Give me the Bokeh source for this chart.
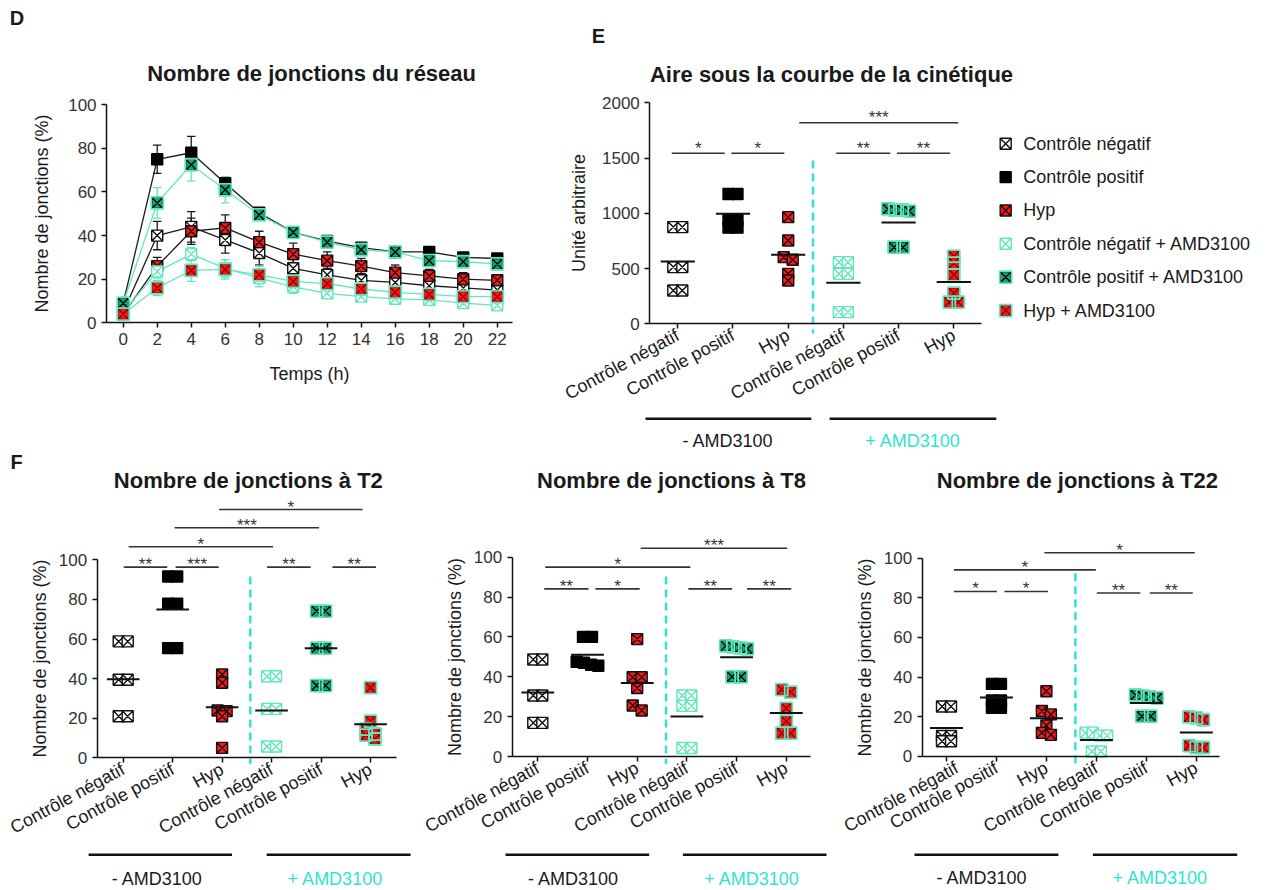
import numpy as np
from bokeh.plotting import figure
from bokeh.models import Range1d, FixedTicker
from bokeh.layouts import column, row
from bokeh.embed import file_html
from bokeh.resources import INLINE
from bokeh.core.properties import value

FONT = "Liberation Sans"
MINT = "#62e6bc"
CYAN = "#2fe3d3"
RED = "#ff1717"
GREEN = "#17a673"
INK = "#1a1a1a"
GREY = "#333333"

# ---------------- data ----------------
categories = ["Contrôle négatif", "Contrôle positif", "Hyp",
              "Contrôle négatif", "Contrôle positif", "Hyp"]
series_names = ["Contrôle négatif", "Contrôle positif", "Hyp",
                "Contrôle négatif + AMD3100", "Contrôle positif + AMD3100", "Hyp + AMD3100"]
group_labels = ["- AMD3100", "+ AMD3100"]

time_h = [0, 2, 4, 6, 8, 10, 12, 14, 16, 18, 20, 22]
d_cn = [5, 40, 44, 38, 32, 25, 22, 19.5, 18.5, 17, 16, 15]
d_cn_err = [1, 6.5, 7, 6, 5.5, 4, 3, 3, 2.5, 2.5, 2, 2]
d_cp = [9, 75, 78, 64, 50.5, 41.5, 37.5, 34.5, 32.5, 32.5, 30, 29.5]
d_cp_err = [1, 6.5, 7.5, 3, 2, 1.5, 1.5, 1.5, 1, 1, 1, 1]
d_hyp = [4, 26, 42, 43.5, 37, 31.5, 28.5, 26, 23, 21.5, 20, 19.5]
d_hyp_err = [1, 4, 6, 6, 5, 5, 4, 3.5, 3.5, 3, 3, 2.5]
d_cn_amd = [5, 23.5, 31.5, 25, 20.5, 16.5, 13.5, 12, 11, 10.5, 9, 8]
d_cn_amd_err = [1, 3, 3, 4, 4, 3, 2, 1.5, 1.5, 1.5, 1, 1]
d_cp_amd = [9, 55, 72.5, 61, 49.5, 41.5, 37, 33.5, 32.5, 28.5, 28, 27]
d_cp_amd_err = [1, 7, 7.5, 6, 2, 1.5, 1.5, 1.5, 1, 1, 1, 1]
d_hyp_amd = [4, 16, 24, 24.5, 22, 19, 18, 15.5, 14, 13, 12, 12]
d_hyp_amd_err = [1, 3.5, 5, 4.5, 4, 3.5, 3, 2, 2, 2, 2, 2]

auc_cn = [875, 875, 513, 513, 302, 302]
auc_cp = [1175, 1175, 940, 940, 870, 870]
auc_hyp = [965, 754, 603, 579, 452, 392]
auc_cn_amd = [558, 558, 452, 452, 106, 106]
auc_cp_amd = [1040, 1030, 1030, 1020, 693, 693]
auc_hyp_amd = [612, 549, 443, 277, 196, 196]

t2_cn = [58.8, 58.8, 39.4, 39.4, 21.0, 21.0]
t2_cp = [91.6, 91.6, 77.8, 77.8, 55.4, 55.4]
t2_hyp = [42.1, 37.9, 23.9, 23.6, 21.0, 5.0]
t2_cn_amd = [41.2, 41.2, 24.7, 24.7, 5.7, 5.7]
t2_cp_amd = [74.1, 74.1, 55.4, 55.4, 36.5, 36.5]
t2_hyp_amd = [35.4, 18.5, 14.5, 12.0, 11.5, 9.5]

t8_cn = [48.7, 48.7, 30.6, 30.6, 16.9, 16.9]
t8_cp = [60.0, 60.0, 47.5, 47.0, 46.0, 45.5]
t8_hyp = [58.9, 39.8, 39.8, 34.4, 25.6, 23.1]
t8_cn_amd = [30.6, 30.6, 25.4, 25.4, 4.3, 4.3]
t8_cp_amd = [55.5, 55.0, 54.5, 54.0, 40.0, 40.0]
t8_hyp_amd = [33.6, 32.3, 24.2, 17.7, 11.7, 11.7]

t22_cn = [25.2, 25.2, 10.3, 10.3, 7.7, 7.7]
t22_cp = [36.6, 36.6, 28.2, 28.2, 24.5, 24.5]
t22_hyp = [32.9, 22.9, 21.2, 15.6, 11.9, 10.9]
t22_cn_amd = [12.0, 12.0, 10.5, 10.5, 2.5, 2.5]
t22_cp_amd = [31.0, 30.5, 30.0, 29.5, 20.3, 20.3]
t22_hyp_amd = [20.0, 19.5, 18.5, 5.5, 4.5, 4.5]

# significance annotations: (from category, to category, height, stars)
auc_sig = [(-0.11, 0.85, 1544, "*"), (0.97, 1.93, 1544, "*"), (2.2, 5.08, 1819, "***"),
           (2.87, 3.85, 1544, "**"), (3.97, 4.93, 1544, "**")]
t2_sig = [(0.01, 0.89, 96.3, "**"), (1.06, 1.93, 96.3, "***"), (0.11, 3.03, 106.6, "*"),
          (1.04, 3.96, 116.2, "***"), (1.94, 4.84, 125.4, "*"), (2.91, 3.79, 96.3, "**"),
          (4.23, 5.11, 96.3, "**")]
t8_sig = [(0.13, 1.02, 84.1, "**"), (1.16, 2.05, 84.1, "*"), (0.15, 3.07, 95.0, "*"),
          (2.07, 5.02, 104.5, "***"), (3.03, 3.91, 84.1, "**"), (4.21, 5.1, 84.1, "**")]
t22_sig = [(0.15, 1.01, 83.2, "*"), (1.16, 2.03, 83.2, "*"), (0.15, 2.99, 94.1, "*"),
           (1.96, 4.97, 102.7, "*"), (3.01, 3.88, 82.4, "**"), (4.07, 4.93, 82.4, "**")]

# marker styles: (marker, fill, line/X colour, outer border colour)
STYLES = [("square_x", "white", "#111111", None),
          ("square", "#000000", "#000000", None),
          ("square_x", RED, "#111111", None),
          ("square_x", "white", MINT, None),
          ("square_x", GREEN, "#000000", MINT),
          ("square_x", RED, "#8a0000", MINT)]


def base_fig(w, h, xr, yr):
    p = figure(width=w, height=h, x_range=Range1d(*xr), y_range=Range1d(*yr),
               output_backend="svg", toolbar_location=None,
               min_border=0, min_border_left=0, min_border_right=0,
               min_border_top=0, min_border_bottom=0)
    p.outline_line_color = None
    p.grid.visible = False
    p.background_fill_color = "white"
    p.border_fill_color = "white"
    return p


def style_axis(ax, label, standoff, size, color):
    if label:
        ax.axis_label = label
    ax.axis_label_text_font = FONT
    ax.axis_label_text_font_size = "18px"
    ax.axis_label_text_font_style = "normal"
    ax.axis_label_text_color = INK
    ax.axis_label_standoff = standoff
    ax.axis_line_color = "#111111"
    ax.axis_line_width = 1.5
    ax.major_tick_line_color = "#111111"
    ax.major_tick_line_width = 1.5
    ax.major_tick_out = 5
    ax.major_tick_in = 0
    ax.minor_tick_out = 0
    ax.minor_tick_in = 0
    ax.major_label_text_font = FONT
    ax.major_label_text_font_size = size
    ax.major_label_text_color = color


def add_text(p, xs, ys, texts, size, color=INK, bold=False, align="center", baseline="middle"):
    p.text(x=xs, y=ys, text=texts, text_font=value(FONT), text_font_size=size,
           text_font_style=value("bold" if bold else "normal"), text_color=color,
           text_align=value(align), text_baseline=value(baseline))


def draw_pts(p, xs, ys, st, size=11):
    p.scatter(x=list(xs), y=list(ys), marker=st[0], size=size, fill_color=st[1],
              line_color=st[2], line_width=1.4)
    if st[3] is not None:
        p.scatter(x=list(xs), y=list(ys), marker="square", size=size + 1, fill_color=None,
                  line_color=st[3], line_width=1.8)


def swarm_offsets(vals, pxx, pxy, thresh=5.0, step=9.0):
    vals = np.asarray(vals, float)
    order = np.argsort(-vals, kind="stable")
    offs = np.zeros(len(vals))
    clusters, cur = [], [order[0]]
    for i in order[1:]:
        if abs(vals[cur[0]] - vals[i]) * pxy < thresh:
            cur.append(i)
        else:
            clusters.append(cur)
            cur = [i]
    clusters.append(cur)
    for c in clusters:
        n = len(c)
        st = step if n <= 2 else step * 0.8
        for k, i in enumerate(c):
            offs[i] = (k - (n - 1) / 2) * st / pxx
    return offs


# ---------------- panel D ----------------
pD = base_fig(560, 450, (-7.218, 25.72), (-58.58, 147.84))
xa, ya = pD.xaxis[0], pD.yaxis[0]
style_axis(xa, "Temps (h)", 16, "17px", GREY)
style_axis(ya, "Nombre de jonctions (%)", 13, "17px", GREY)
xa.fixed_location = 0
xa.bounds = (-0.98, 22.9)
xa.ticker = FixedTicker(ticks=time_h)
ya.fixed_location = -0.98
ya.bounds = (0, 100)
ya.ticker = FixedTicker(ticks=[0, 20, 40, 60, 80, 100])

d_means = [d_cn, d_cp, d_hyp, d_cn_amd, d_cp_amd, d_hyp_amd]
d_errs = [d_cn_err, d_cp_err, d_hyp_err, d_cn_amd_err, d_cp_amd_err, d_hyp_amd_err]
t = np.array(time_h, float)
for i in range(6):
    m = np.array(d_means[i], float)
    e = np.array(d_errs[i], float)
    col = "#1a1a1a" if i < 3 else MINT
    pD.segment(x0=t, y0=m - e, x1=t, y1=m + e, line_color=col, line_width=1.3)
    pD.segment(x0=t - 0.25, y0=m + e, x1=t + 0.25, y1=m + e, line_color=col, line_width=1.3)
    pD.segment(x0=t - 0.25, y0=m - e, x1=t + 0.25, y1=m - e, line_color=col, line_width=1.3)
    pD.line(x=t, y=m, line_color=col, line_width=1.3)
for i in range(6):
    draw_pts(pD, t, d_means[i], STYLES[i], size=11)

add_text(pD, [11.08], [114.4], ["Nombre de jonctions du réseau"], "22px", bold=True)
add_text(pD, [-6.25], [139.6], ["D"], "20px", bold=True)


# ---------------- scatter panels (E, F) ----------------
def scatter_panel(cfg, groups, sig):
    p = base_fig(cfg["w"], cfg["h"], cfg["xr"], cfg["yr"])
    xa, ya = p.xaxis[0], p.yaxis[0]
    style_axis(xa, None, 0, "18px", INK)
    style_axis(ya, cfg["ylabel"], cfg["ystand"], "17px", GREY)
    xa.fixed_location = 0
    xa.bounds = (cfg["yaxis_x"], cfg["xend"])
    xa.ticker = FixedTicker(ticks=list(range(len(categories))))
    xa.major_label_overrides = {i: c for i, c in enumerate(categories)}
    xa.major_label_orientation = 0.5
    ya.fixed_location = cfg["yaxis_x"]
    ya.bounds = (0, cfg["ymax"])
    ya.ticker = FixedTicker(ticks=cfg["yticks"])
    pxx, pxy = cfg["pxx"], cfg["pxy"]

    # significance bars
    x0 = [s[0] for s in sig]
    x1 = [s[1] for s in sig]
    yy = [s[2] for s in sig]
    p.segment(x0=x0, y0=yy, x1=x1, y1=yy, line_color=GREY, line_width=1.6)
    add_text(p, [(a + b) / 2 for a, b in zip(x0, x1)],
             [v + cfg["star_dy"] / pxy for v in yy], [s[3] for s in sig], "17px", color=GREY)

    # separator
    p.segment(x0=[cfg["dash_x"]], y0=[cfg["dash_y"][0]], x1=[cfg["dash_x"]], y1=[cfg["dash_y"][1]],
              line_color=CYAN, line_width=2.5, line_dash="8 5")

    # points and means
    for i, g in enumerate(groups):
        offs = swarm_offsets(g, pxx, pxy)
        draw_pts(p, i + offs, g, STYLES[i], size=11)
    for i, g in enumerate(groups):
        mv = float(np.mean(g))
        p.segment(x0=[i - cfg["mhw"]], y0=[mv], x1=[i + cfg["mhw"]], y1=[mv],
                  line_color="#111111", line_width=2)

    # group underlines and labels
    uy = cfg["under_y"]
    sp = cfg["spans"]
    p.segment(x0=[sp[0][0], sp[1][0]], y0=[uy, uy], x1=[sp[0][1], sp[1][1]], y1=[uy, uy],
              line_color="#111111", line_width=2.5)
    add_text(p, cfg["label_x"], [cfg["label_y"]] * 2, group_labels, "18px", color=[INK, CYAN])

    add_text(p, [cfg["title_xy"][0]], [cfg["title_xy"][1]], [cfg["title"]], "22px", bold=True)
    return p


cfgE = dict(w=705, h=450, xr=(-2.125, 10.647), yr=(-1146.6, 2925.8), yaxis_x=-0.507, xend=5.51,
            ymax=2000, yticks=[0, 500, 1000, 1500, 2000], ylabel="Unité arbitraire", ystand=10,
            pxx=55.2, pxy=0.1105, star_dy=5, dash_x=2.45, dash_y=(1478, -88), mhw=0.31,
            under_y=-860, spans=[(-0.585, 2.42), (2.75, 5.77)], label_y=-1065, label_x=[0.91, 4.26],
            title="Aire sous la courbe de la cinétique", title_xy=(2.785, 2256))
pE = scatter_panel(cfgE, [auc_cn, auc_cp, auc_hyp, auc_cn_amd, auc_cp_amd, auc_hyp_amd], auc_sig)
add_text(pE, [-1.437], [2609], ["E"], "20px", bold=True)
# legend
leg_x, leg_tx = 5.94, 6.26
leg_y = [1629, 1327, 1026, 724, 422, 120]
for i in range(6):
    draw_pts(pE, [leg_x], [leg_y[i]], STYLES[i], size=11)
add_text(pE, [leg_tx] * 6, leg_y, series_names, "18px", color=INK, align="left")

cfgT2 = dict(w=420, h=438, xr=(-2.481, 6.011), yr=(-66.0, 155.2), yaxis_x=-0.526, xend=5.52,
             ymax=100, yticks=[0, 20, 40, 60, 80, 100], ylabel="Nombre de jonctions (%)", ystand=6,
             pxx=49.46, pxy=1.98, star_dy=2.5, dash_x=2.57, dash_y=(91.6, -3), mhw=0.33,
             under_y=-49.0, spans=[(-0.70, 2.20), (2.90, 5.81)], label_y=-61.0, label_x=[0.69, 4.29],
             title="Nombre de jonctions à T2", title_xy=(2.53, 140))
pT2 = scatter_panel(cfgT2, [t2_cn, t2_cp, t2_hyp, t2_cn_amd, t2_cp_amd, t2_hyp_amd], t2_sig)
add_text(pT2, [-2.157], [149.6], ["F"], "20px", bold=True)

cfgT8 = dict(w=420, h=438, xr=(-2.360, 6.091), yr=(-66.2, 153.5), yaxis_x=-0.515, xend=5.49,
             ymax=100, yticks=[0, 20, 40, 60, 80, 100], ylabel="Nombre de jonctions (%)", ystand=6,
             pxx=49.7, pxy=1.993, star_dy=2.5, dash_x=2.58, dash_y=(90.3, -3.7), mhw=0.33,
             under_y=-49.3, spans=[(-0.65, 2.24), (2.92, 5.81)], label_y=-61.2, label_x=[0.72, 4.31],
             title="Nombre de jonctions à T8", title_xy=(2.69, 138.5))
pT8 = scatter_panel(cfgT8, [t8_cn, t8_cp, t8_hyp, t8_cn_amd, t8_cp_amd, t8_hyp_amd], t8_sig)

cfgT22 = dict(w=425, h=438, xr=(-2.122, 6.386), yr=(-66.6, 154.3), yaxis_x=-0.486, xend=5.47,
              ymax=100, yticks=[0, 20, 40, 60, 80, 100], ylabel="Nombre de jonctions (%)", ystand=6,
              pxx=49.95, pxy=1.983, star_dy=2.5, dash_x=2.58, dash_y=(92.4, -3.7), mhw=0.33,
              under_y=-49.6, spans=[(-0.64, 2.24), (2.93, 5.82)], label_y=-61.5, label_x=[0.71, 4.28],
              title="Nombre de jonctions à T22", title_xy=(2.62, 139.2))
pT22 = scatter_panel(cfgT22, [t22_cn, t22_cp, t22_hyp, t22_cn_amd, t22_cp_amd, t22_hyp_amd], t22_sig)

layout = column(row(pD, pE), row(pT2, pT8, pT22))
open("out.html", "w").write(file_html(layout, INLINE))
